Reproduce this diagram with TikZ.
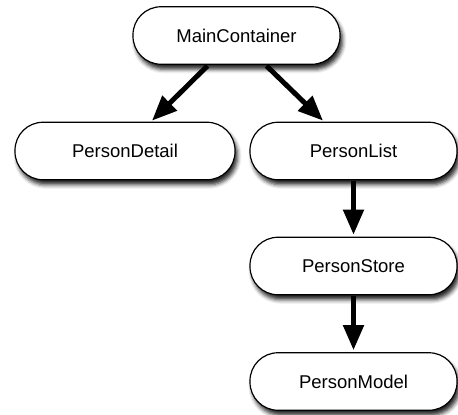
\documentclass[tikz,border=0pt]{standalone}
\usepackage{fontspec}
\setmainfont{Liberation Sans}
\usetikzlibrary{arrows.meta,shadows.blur,calc}
\begin{document}
\begin{tikzpicture}[x=1pt,y=-1pt,
  box/.style={draw=black, line width=1.2pt, fill=white, rounded corners=28pt,
    minimum width=207pt, minimum height=57.5pt, inner sep=0pt,
    font=\fontsize{18.5}{20}\selectfont,
    blur shadow={shadow xshift=2.5pt, shadow yshift=-5pt, shadow blur radius=4pt, shadow opacity=85}},
  arr/.style={line width=5pt, -{Triangle[length=25pt,width=20pt]}}
]
\useasboundingbox (0,0) rectangle (458,415);
\node[box] (mc) at (236.5,35.5) {MainContainer};
\node[box, minimum width=220pt] (pd) at (125,151) {PersonDetail};
\node[box] (pl) at (353.5,151) {PersonList};
\node[box] (ps) at (353.5,266) {PersonStore};
\node[box] (pm) at (353.5,381.5) {PersonModel};
\draw[arr] ($(mc.south)+(-29,1)$) -- ($(pd.north)+(27,-1)$);
\draw[arr] ($(mc.south)+(30,1)$) -- ($(pl.north)+(-30.5,-1)$);
\draw[arr] ($(pl.south)+(0,1)$) -- ($(ps.north)+(0,-2)$);
\draw[arr] ($(ps.south)+(0,1)$) -- ($(pm.north)+(0,-2)$);
\end{tikzpicture}
\end{document}
